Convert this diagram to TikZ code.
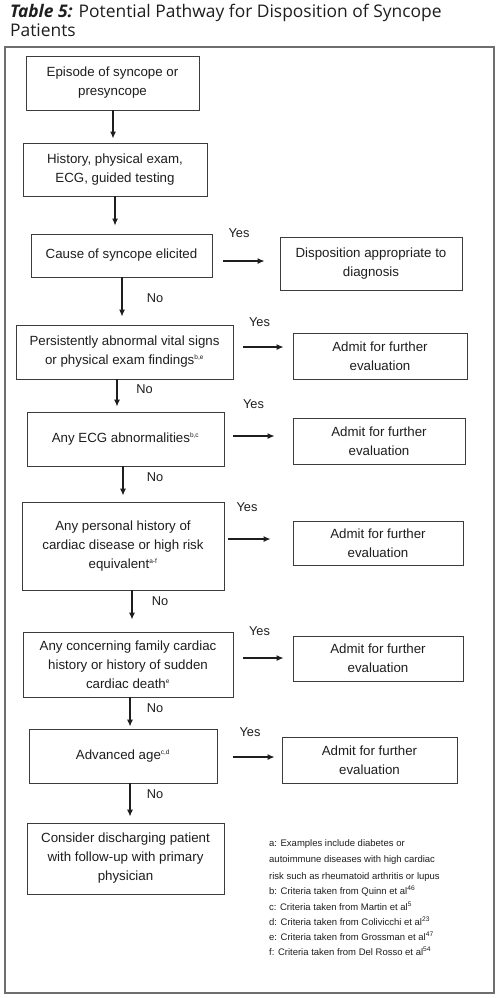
\documentclass[tikz,border=0pt]{standalone}
\usepackage{fontspec}
\setmainfont{Liberation Sans}
\newfontfamily\titlefont{Open Sans}
\usetikzlibrary{arrows.meta}
\definecolor{txt}{HTML}{1E1E1E}
\definecolor{bord}{HTML}{3C3C3C}
\definecolor{frame}{HTML}{6E6E6E}
\newcommand{\sps}[1]{\textsuperscript{\fontsize{6.5}{6.5}\selectfont #1}}
\tikzset{
  box/.style={draw=bord, line width=0.9pt, rectangle, inner sep=0pt, align=center,
    text=txt, font=\fontsize{13.3}{19}\selectfont},
  lbl/.style={inner sep=0pt, text=txt, font=\fontsize{12.8}{15}\selectfont},
  arr/.style={draw=txt, line width=1.2pt, -{Latex[length=7pt,width=6pt]}},
  foot/.style={inner sep=0pt, anchor=base west, text=txt, font=\fontsize{9.5}{12}\selectfont}
}
\begin{document}
\begin{tikzpicture}[x=1pt,y=-1pt]
\useasboundingbox (0,0) rectangle (500,998);
\fill[white] (0,0) rectangle (500,998);
% title
\node[inner sep=0pt, anchor=base west, align=left, text=txt,
  font=\titlefont\fontsize{17.4}{19}\selectfont] (title) at (10,36.5)
  {\textbf{\textit{Table 5:}} Potential Pathway for Disposition of Syncope\\Patients};
% frame
\draw[frame, line width=1.2pt] (5,47) rectangle (494,993);
% main boxes
\node[box, minimum width=173pt, minimum height=54pt] (b1) at (112.5,83) {Episode of syncope or\\presyncope};
\node[box, minimum width=184pt, minimum height=53pt] (b2) at (115,169.5) {History, physical exam,\\ECG, guided testing};
\node[box, minimum width=181pt, minimum height=43pt] (b3) at (121.5,255.5) {Cause of syncope elicited};
\node[box, minimum width=182pt, minimum height=53pt] (d) at (371,263.5) {Disposition appropriate to\\diagnosis};
\node[box, minimum width=217pt, minimum height=54pt] (b4) at (124.5,352) {Persistently abnormal vital signs\\or physical exam findings\sps{b,e}};
\node[box, minimum width=174pt, minimum height=46pt] (a1) at (380,356) {Admit for further\\evaluation};
\node[box, minimum width=197pt, minimum height=54pt] (b5) at (125.5,439) {Any ECG abnormalities\sps{b,c}};
\node[box, minimum width=172pt, minimum height=46pt] (a2) at (379,441) {Admit for further\\evaluation};
\node[box, minimum width=202pt, minimum height=88pt] (b6) at (123,546) {Any personal history of\\cardiac disease or high risk\\equivalent\sps{a-f}};
\node[box, minimum width=170pt, minimum height=44pt] (a3) at (378,543) {Admit for further\\evaluation};
\node[box, minimum width=210pt, minimum height=65pt] (b7) at (128,664.5) {Any concerning family cardiac\\history or history of sudden\\cardiac death\sps{e}};
\node[box, minimum width=170pt, minimum height=45pt] (a4) at (378,658.5) {Admit for further\\evaluation};
\node[box, minimum width=188pt, minimum height=54pt] (b8) at (123,756) {Advanced age\sps{c,d}};
\node[box, minimum width=175pt, minimum height=46pt] (a5) at (369.5,760) {Admit for further\\evaluation};
\node[box, minimum width=197pt, minimum height=71pt] (b9) at (125.5,858.5) {Consider discharging patient\\with follow-up with primary\\physician};
% vertical arrows
\draw[arr, shorten >=4pt] (b1.south -| 113,0) -- (b2.north -| 113,0);
\draw[arr, shorten >=8pt] (b2.south -| 115,0) -- (b3.north -| 115,0);
\draw[arr, shorten >=8pt] (b3.south -| 122,0) -- (b4.north -| 122,0);
\draw[arr, shorten >=5pt] (b4.south -| 117,0) -- (b5.north -| 117,0);
\draw[arr, shorten >=6pt] (b5.south -| 123,0) -- (b6.north -| 123,0);
\draw[arr, shorten >=12pt] (b6.south -| 132,0) -- (b7.north -| 132,0);
\draw[arr, shorten >=2pt] (b7.south -| 130,0) -- (b8.north -| 130,0);
\draw[arr, shorten >=6pt] (b8.south -| 130,0) -- (b9.north -| 130,0);
% horizontal arrows
\draw[arr, shorten <=11pt, shorten >=15pt] (b3.east |- 0,261) -- (d.west |- 0,261);
\draw[arr, shorten <=10pt, shorten >=9pt] (b4.east |- 0,347) -- (a1.west |- 0,347);
\draw[arr, shorten <=9pt, shorten >=18pt] (b5.east |- 0,436) -- (a2.west |- 0,436);
\draw[arr, shorten <=4pt, shorten >=22pt] (b6.east |- 0,539) -- (a3.west |- 0,539);
\draw[arr, shorten <=10pt, shorten >=9pt] (b7.east |- 0,658) -- (a4.west |- 0,658);
\draw[arr, shorten <=16pt, shorten >=7pt] (b8.east |- 0,757) -- (a5.west |- 0,757);
% yes labels
\node[lbl] (y3) at (239,233) {Yes};
\node[lbl] (y4) at (259.5,322) {Yes};
\node[lbl] (y5) at (253.5,404) {Yes};
\node[lbl] (y6) at (247,507) {Yes};
\node[lbl] (y7) at (259.5,631) {Yes};
\node[lbl] (y8) at (250,732) {Yes};
% no labels
\node[lbl] (n3) at (155,298) {No};
\node[lbl] (n4) at (144.5,389) {No};
\node[lbl] (n5) at (155,477) {No};
\node[lbl] (n6) at (160,601) {No};
\node[lbl] (n7) at (155,708) {No};
\node[lbl] (n8) at (155,794) {No};
% footnotes
\node[foot] (f1) at (269,846) {a: Examples include diabetes or};
\node[foot] (f2) at (269,862) {autoimmune diseases with high cardiac};
\node[foot] (f3) at (269,879) {risk such as rheumatoid arthritis or lupus};
\node[foot] (f4) at (269,894) {b: Criteria taken from Quinn et al\textsuperscript{46}};
\node[foot] (f5) at (269,910) {c: Criteria taken from Martin et al\textsuperscript{5}};
\node[foot] (f6) at (269,925) {d: Criteria taken from Colivicchi et al\textsuperscript{23}};
\node[foot] (f7) at (269,940) {e: Criteria taken from Grossman et al\textsuperscript{47}};
\node[foot] (f8) at (269,955) {f: Criteria taken from Del Rosso et al\textsuperscript{54}};
\end{tikzpicture}
\end{document}
